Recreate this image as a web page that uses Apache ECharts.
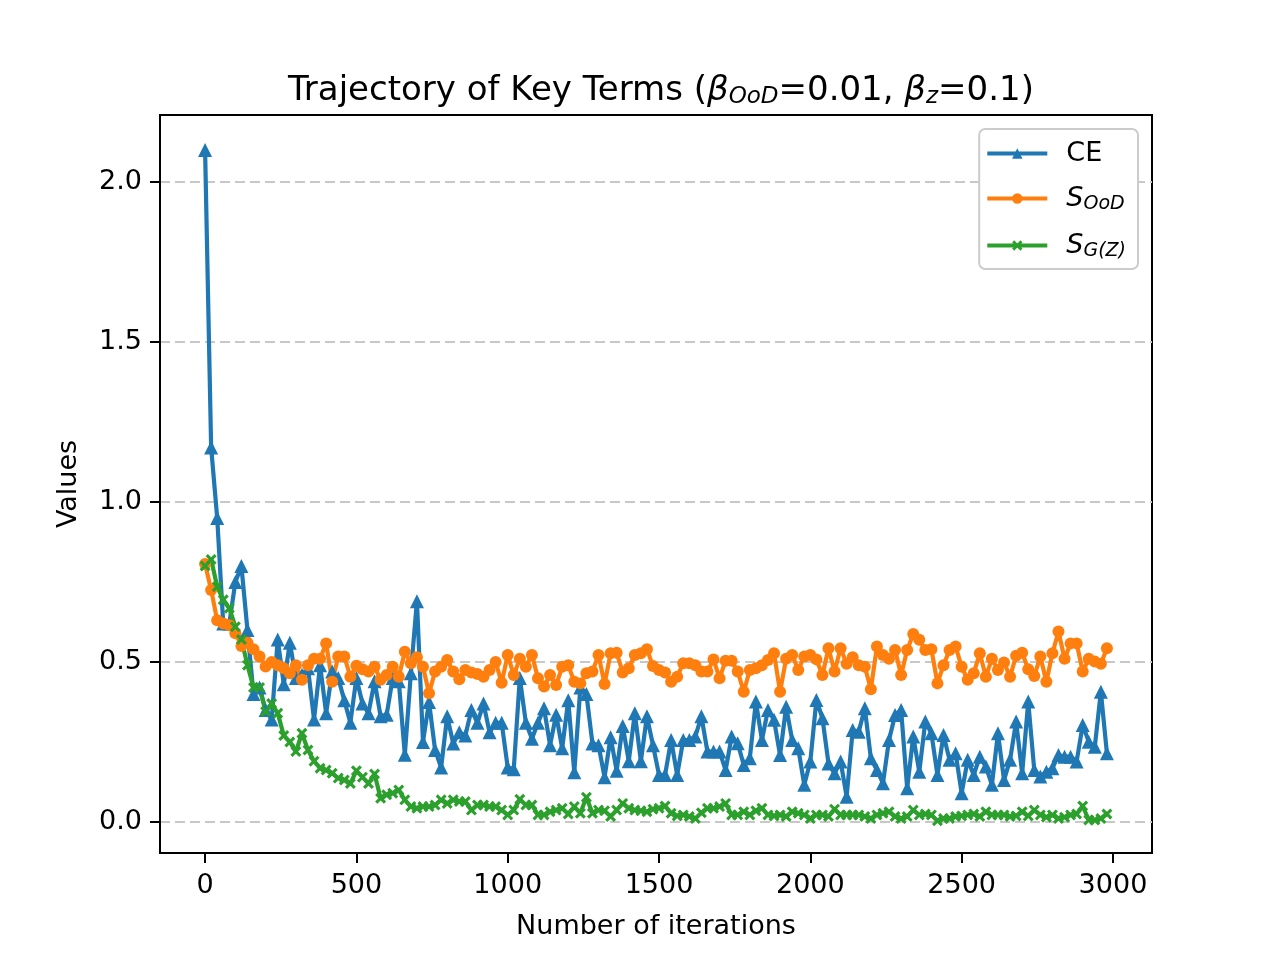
<!DOCTYPE html>
<html>
<head>
<meta charset="utf-8">
<title>Trajectory of Key Terms</title>
<script src="https://cdn.jsdelivr.net/npm/echarts@6/dist/echarts.min.js"></script>
<style>
  html, body { margin: 0; padding: 0; background: #fff; }
  #chart { width: 1280px; height: 960px; }
</style>
</head>
<body>
<div id="chart"></div>
<script>
// logged every 20 iterations, 0 .. 2980
const iterations = [];
for (let it = 0; it <= 2980; it += 20) iterations.push(it);

const ceValues = [
  2.10, 1.17, 0.95, 0.62, 0.62, 0.75, 0.80, 0.60, 0.40, 0.42,
  0.35, 0.32, 0.57, 0.43, 0.56, 0.45, 0.46, 0.48, 0.32, 0.49,
  0.34, 0.47, 0.45, 0.38, 0.31, 0.45, 0.37, 0.34, 0.44, 0.33,
  0.335, 0.45, 0.44, 0.21, 0.465, 0.69, 0.25, 0.375, 0.225, 0.17,
  0.33, 0.245, 0.28, 0.27, 0.35, 0.31, 0.37, 0.28, 0.31, 0.31,
  0.17, 0.165, 0.45, 0.31, 0.26, 0.31, 0.355, 0.24, 0.335, 0.23,
  0.38, 0.155, 0.42, 0.40, 0.245, 0.24, 0.14, 0.265, 0.16, 0.30,
  0.19, 0.34, 0.19, 0.33, 0.24, 0.147, 0.147, 0.256, 0.147, 0.256,
  0.256, 0.267, 0.33, 0.22, 0.22, 0.22, 0.162, 0.267, 0.246, 0.178,
  0.199, 0.376, 0.256, 0.35, 0.319, 0.209, 0.36, 0.256, 0.23, 0.116,
  0.189, 0.381, 0.324, 0.183, 0.152, 0.189, 0.079, 0.287, 0.282, 0.355,
  0.199, 0.162, 0.121, 0.256, 0.334, 0.35, 0.105, 0.267, 0.157, 0.314,
  0.277, 0.147, 0.272, 0.194, 0.215, 0.09, 0.194, 0.147, 0.204, 0.173,
  0.116, 0.277, 0.131, 0.194, 0.314, 0.152, 0.376, 0.162, 0.142, 0.157,
  0.168, 0.209, 0.204, 0.204, 0.189, 0.303, 0.251, 0.235, 0.407, 0.215
];

const oodValues = [
  0.806, 0.725, 0.63, 0.62, 0.615, 0.59, 0.55, 0.56, 0.54, 0.517,
  0.486, 0.50, 0.49, 0.48, 0.465, 0.49, 0.444, 0.49, 0.51, 0.51,
  0.558, 0.438, 0.517, 0.517, 0.454, 0.488, 0.477, 0.47, 0.485, 0.444,
  0.459, 0.485, 0.454, 0.532, 0.496, 0.515, 0.485, 0.402, 0.47, 0.485,
  0.506, 0.47, 0.446, 0.475, 0.467, 0.462, 0.454, 0.475, 0.50, 0.435,
  0.522, 0.459, 0.51, 0.485, 0.522, 0.449, 0.423, 0.459, 0.428, 0.485,
  0.49, 0.438, 0.433, 0.465, 0.47, 0.522, 0.431, 0.527, 0.529, 0.467,
  0.48, 0.522, 0.527, 0.54, 0.487, 0.475, 0.467, 0.438, 0.454, 0.496,
  0.496, 0.49, 0.47, 0.47, 0.508, 0.449, 0.504, 0.504, 0.47, 0.407,
  0.475, 0.48, 0.49, 0.506, 0.527, 0.407, 0.51, 0.522, 0.475, 0.517,
  0.522, 0.508, 0.459, 0.543, 0.47, 0.543, 0.494, 0.515, 0.49, 0.485,
  0.415, 0.548, 0.522, 0.51, 0.537, 0.459, 0.537, 0.587, 0.569, 0.537,
  0.54, 0.433, 0.49, 0.537, 0.548, 0.485, 0.444, 0.465, 0.527, 0.454,
  0.51, 0.475, 0.498, 0.454, 0.519, 0.529, 0.477, 0.456, 0.517, 0.438,
  0.527, 0.595, 0.51, 0.558, 0.558, 0.47, 0.51, 0.501, 0.494, 0.543
];

const gzValues = [
  0.80, 0.82, 0.735, 0.694, 0.668, 0.61, 0.57, 0.49, 0.42, 0.42,
  0.345, 0.37, 0.34, 0.27, 0.25, 0.22, 0.277, 0.225, 0.19, 0.168,
  0.162, 0.152, 0.137, 0.131, 0.12, 0.16, 0.14, 0.12, 0.15, 0.074,
  0.085, 0.09, 0.10, 0.069, 0.048, 0.043, 0.048, 0.048, 0.053, 0.069,
  0.058, 0.069, 0.064, 0.064, 0.037, 0.053, 0.053, 0.048, 0.048, 0.037,
  0.022, 0.037, 0.071, 0.053, 0.053, 0.022, 0.022, 0.032, 0.037, 0.043,
  0.025, 0.048, 0.027, 0.077, 0.027, 0.037, 0.035, 0.017, 0.037, 0.058,
  0.043, 0.037, 0.035, 0.032, 0.04, 0.043, 0.05, 0.027, 0.019, 0.022,
  0.017, 0.011, 0.029, 0.043, 0.043, 0.048, 0.058, 0.022, 0.022, 0.032,
  0.022, 0.035, 0.043, 0.022, 0.019, 0.022, 0.017, 0.032, 0.027, 0.022,
  0.011, 0.022, 0.022, 0.017, 0.04, 0.022, 0.022, 0.022, 0.022, 0.017,
  0.011, 0.022, 0.027, 0.032, 0.017, 0.011, 0.017, 0.037, 0.022, 0.025,
  0.022, 0.004, 0.011, 0.011, 0.017, 0.019, 0.022, 0.025, 0.017, 0.032,
  0.022, 0.022, 0.022, 0.017, 0.019, 0.032, 0.019, 0.037, 0.022, 0.015,
  0.022, 0.011, 0.015, 0.022, 0.025, 0.05, 0.006, 0.006, 0.011, 0.025
];

const xTicks = [0, 500, 1000, 1500, 2000, 2500, 3000];
const yTicks = [0, 0.5, 1.0, 1.5, 2.0];

const pair = (ys) => ys.map((y, i) => [iterations[i], y]);

const FONT = '"DejaVu Sans", sans-serif';
const xMarker = 'path://M2,0 L5,3 L8,0 L10,2 L7,5 L10,8 L8,10 L5,7 L2,10 L0,8 L3,5 L0,2 Z';

const legendLabels = {
  'CE': 'CE',
  'S_OoD': '{it|S}{sub|OoD}',
  'S_G(Z)': '{it|S}{sub|G(Z)}'
};

const chart = echarts.init(document.getElementById('chart'));

chart.setOption({
  animation: false,
  backgroundColor: '#fff',
  textStyle: { fontFamily: FONT },
  title: {
    text: 'Trajectory of Key Terms ({b|β}{s|OoD}=0.01, {b|β}{s|z}=0.1)',
    left: 656,
    top: 68,
    textAlign: 'center',
    textStyle: {
      fontFamily: FONT,
      fontSize: 34,
      fontWeight: 'normal',
      color: '#000',
      rich: {
        b: { fontFamily: FONT, fontSize: 34, fontStyle: 'italic', color: '#000' },
        s: { fontFamily: FONT, fontSize: 23, fontStyle: 'italic', color: '#000', padding: [13, 0, 0, 0] }
      }
    }
  },
  legend: {
    orient: 'vertical',
    right: 142,
    top: 129,
    padding: [11, 12, 8, 6],
    itemGap: 18,
    itemWidth: 60,
    itemHeight: 13,
    borderColor: '#cccccc',
    borderWidth: 2,
    borderRadius: 6,
    backgroundColor: '#fff',
    lineStyle: { width: 4.2 },
    data: ['CE', 'S_OoD', 'S_G(Z)'],
    formatter: (name) => legendLabels[name],
    textStyle: {
      fontFamily: FONT,
      fontSize: 27,
      color: '#000',
      padding: [0, 0, 0, 14],
      rich: {
        it: { fontFamily: FONT, fontSize: 27, fontStyle: 'italic', color: '#000' },
        sub: { fontFamily: FONT, fontSize: 19, fontStyle: 'italic', color: '#000', padding: [12, 0, 0, 0] }
      }
    }
  },
  grid: {
    left: 160,
    right: 128,
    top: 115,
    bottom: 107,
    show: true,
    borderColor: '#000',
    borderWidth: 2,
    backgroundColor: 'transparent'
  },
  xAxis: {
    type: 'value',
    min: -149,
    max: 3129,
    name: 'Number of iterations',
    nameLocation: 'middle',
    nameGap: 60,
    nameTextStyle: { fontFamily: FONT, fontSize: 27, color: '#000' },
    axisLine: { show: true, onZero: false, lineStyle: { color: '#000', width: 2 } },
    axisTick: {
      show: true, inside: false, length: 10,
      lineStyle: { color: '#000', width: 2 },
      customValues: xTicks
    },
    axisLabel: {
      fontFamily: FONT, fontSize: 27, color: '#000', margin: 19,
      customValues: xTicks,
      formatter: (v) => String(v)
    },
    splitLine: { show: false }
  },
  yAxis: {
    type: 'value',
    min: -0.097,
    max: 2.209,
    name: 'Values',
    nameLocation: 'middle',
    nameGap: 78,
    nameTextStyle: { fontFamily: FONT, fontSize: 27, color: '#000' },
    axisLine: { show: true, onZero: false, lineStyle: { color: '#000', width: 2 } },
    axisTick: {
      show: true, inside: false, length: 10,
      lineStyle: { color: '#000', width: 2 },
      customValues: yTicks
    },
    axisLabel: {
      fontFamily: FONT, fontSize: 27, color: '#000', margin: 18,
      customValues: yTicks,
      formatter: (v) => v.toFixed(1)
    },
    splitLine: {
      show: true,
      lineStyle: { color: '#c8c8c8', width: 2, type: [10, 5] }
    }
  },
  series: [
    {
      name: 'CE',
      type: 'line',
      data: pair(ceValues),
      color: '#1f77b4',
      symbol: 'triangle',
      symbolSize: 14,
      showAllSymbol: true,
      lineStyle: { width: 4.2 },
      itemStyle: { color: '#1f77b4' }
    },
    {
      name: 'S_OoD',
      type: 'line',
      data: pair(oodValues),
      color: '#ff7f0e',
      symbol: 'circle',
      symbolSize: 12,
      showAllSymbol: true,
      lineStyle: { width: 4.2 },
      itemStyle: { color: '#ff7f0e' }
    },
    {
      name: 'S_G(Z)',
      type: 'line',
      data: pair(gzValues),
      color: '#2ca02c',
      symbol: xMarker,
      symbolSize: 11,
      showAllSymbol: true,
      lineStyle: { width: 4.2 },
      itemStyle: { color: '#2ca02c' }
    }
  ]
});
</script>
</body>
</html>
